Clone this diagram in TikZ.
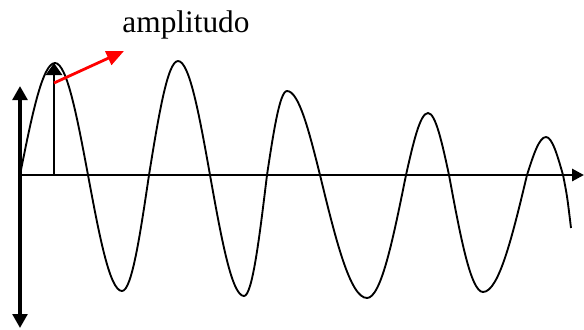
\documentclass[tikz,border=0pt]{standalone}
\usepackage{fontspec}
\setmainfont{Liberation Serif}
\usetikzlibrary{arrows.meta}

\begin{document}
\begin{tikzpicture}[x=0.75pt, y=-0.75pt,
  axis/.style={line width=2.2pt},
  wave/.style={line width=1.4pt},
  pointer/.style={red, line width=2.1pt, -{Triangle[length=13pt, width=11pt]}}]
  \useasboundingbox (0,0) rectangle (584,329);
  \coordinate (O) at (20,175);
  \coordinate (yup) at (20,86);
  \coordinate (ydown) at (20,328);
  \coordinate (xend) at (584,175);
  \coordinate (foot) at (54,175);
  \coordinate (top) at (54,63);
  \coordinate (tail) at (54,83);
  \coordinate (tip) at (124,51);
  \node[anchor=base, font=\fontsize{23.5}{28}\selectfont] (lbl) at (186,32) {amplitudo};
  \draw[axis, line width=3pt, {Triangle[length=10.5pt, width=11pt]}-{Triangle[length=10.5pt, width=11pt]}] (ydown) -- (yup);
  \draw[axis, -{Triangle[length=9pt, width=9pt]}] (O) -- (xend);
  \draw[wave] (O) sin (55,63) cos (88,175) sin (122,291) cos (149,175)
    sin (178,61) cos (210,175) sin (244,296) cos (267,175)
    sin (287,91) cos (320,175) sin (367,298) cos (406,175)
    sin (428,113) cos (449,175) sin (483,292) cos (527,175)
    sin (546,137) cos (563,175) .. controls (567,195) .. (571,228);
  \draw[axis, -{Triangle[length=9pt, width=12pt]}] (foot) -- (top);
  \draw[pointer] (tail) -- (tip);
\end{tikzpicture}
\end{document}
